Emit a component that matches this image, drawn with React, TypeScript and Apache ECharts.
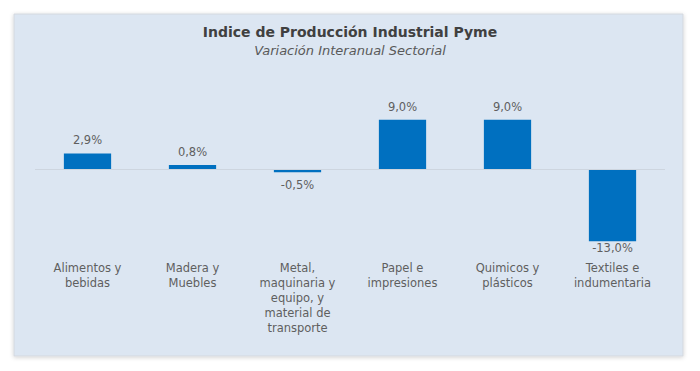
import React, { useEffect, useRef } from "react";
import * as echarts from "echarts";

const categories: string[] = [
  "Alimentos y\nbebidas",
  "Madera y\nMuebles",
  "Metal,\nmaquinaria y\nequipo, y\nmaterial de\ntransporte",
  "Papel e\nimpresiones",
  "Quimicos y\nplásticos",
  "Textiles e\nindumentaria",
];
const values: number[] = [2.9, 0.8, -0.5, 9.0, 9.0, -13.0];
const titleText = "Indice de Producción Industrial Pyme";
const subtitleText = "Variación Interanual Sectorial";

const fmt = (v: number) => v.toFixed(1).replace(".", ",") + "%";

export default function App() {
  const ref = useRef<HTMLDivElement>(null);
  useEffect(() => {
    if (!ref.current) return;
    const chart = echarts.init(ref.current, null, { renderer: "svg" });
    const font = "'DejaVu Sans', sans-serif";
    chart.setOption({
      animation: false,
      backgroundColor: "#ffffff",
      graphic: [
        {
          type: "rect",
          z: -10,
          shape: { x: 14, y: 14, width: 669, height: 342 },
          style: {
            fill: "#dce6f2",
            stroke: "#d4d8de",
            lineWidth: 1,
            shadowBlur: 4,
            shadowColor: "rgba(0,0,0,0.18)",
            shadowOffsetY: 1,
          },
        },
      ],
      title: {
        text: titleText,
        subtext: subtitleText,
        left: "center",
        top: 20,
        itemGap: 5,
        textStyle: {
          fontFamily: font,
          fontWeight: "bold",
          fontSize: 14,
          color: "#404040",
        },
        subtextStyle: {
          fontFamily: font,
          fontStyle: "italic",
          fontSize: 13,
          color: "#595959",
        },
      },
      grid: { left: 35, right: 35, top: 114.2, bottom: 124.1 },
      xAxis: {
        type: "category",
        data: categories,
        axisLine: { show: false, onZero: false },
        axisTick: { show: false },
        axisLabel: {
          interval: 0,
          margin: 14,
          fontFamily: font,
          fontSize: 11.5,
          lineHeight: 15,
          color: "#5f5f5f",
        },
      },
      yAxis: {
        type: "value",
        min: -14,
        max: 10,
        show: false,
        splitLine: { show: false },
      },
      series: [
        {
          type: "bar",
          barWidth: "45%",
          itemStyle: { color: "#0070c0" },
          label: {
            show: true,
            fontFamily: font,
            fontSize: 11.5,
            color: "#5f5f5f",
            formatter: (p: any) => fmt(p.value),
          },
          data: values.map((v) => ({
            value: v,
            label: {
              position: v < 0 ? "bottom" : "top",
              distance: v < -5 ? 1 : 7,
            },
          })),
          markLine: {
            silent: true,
            symbol: "none",
            label: { show: false },
            lineStyle: { color: "#cdd5df", type: "solid", width: 1 },
            data: [{ yAxis: 0 }],
          },
        },
      ],
    });
    return () => chart.dispose();
  }, []);
  return (
    <div
      ref={ref}
      style={{ position: "fixed", left: 0, top: 0, width: 700, height: 371 }}
    />
  );
}
